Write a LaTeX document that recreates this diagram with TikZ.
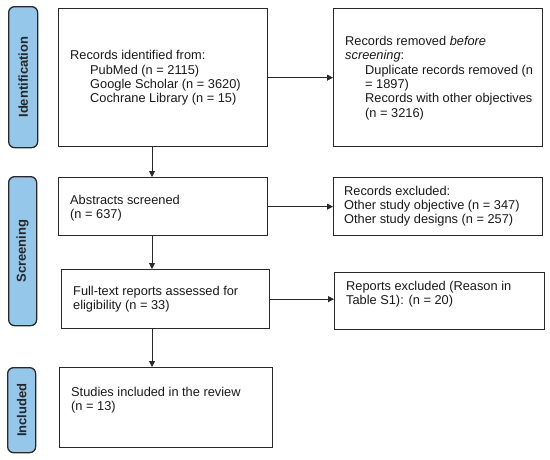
\documentclass[tikz,border=0pt]{standalone}
\usepackage{fontspec}
\setmainfont{Liberation Sans}
\usetikzlibrary{arrows.meta}
\definecolor{barfill}{RGB}{148,199,234}
\definecolor{lineclr}{RGB}{40,40,40}
\tikzset{
  box/.style={draw=lineclr, line width=1.3pt, fill=white, inner sep=0pt, anchor=north west},
  bar/.style={draw=lineclr, line width=1.3pt, fill=barfill, rounded corners=6pt, inner sep=0pt, anchor=north west},
  barlabel/.style={rotate=90, font=\fontsize{13}{15}\selectfont\bfseries, text=black!85},
  txt/.style={anchor=west, align=left, inner sep=0pt, font=\fontsize{12.8}{14.3}\selectfont, text=black!90},
  arr/.style={draw=lineclr, line width=0.8pt, -{Triangle[length=6pt,width=6pt]}}
}
\newcommand{\ind}{\hspace*{20pt}}
\begin{document}
\begin{tikzpicture}[x=1pt,y=-1pt]
\useasboundingbox (0,0) rectangle (550,459);
% side bars
\node[bar, minimum width=29pt, minimum height=141pt] (bId) at (8,6) {};
\node[bar, minimum width=28pt, minimum height=149pt] (bSc) at (8,176) {};
\node[bar, minimum width=28pt, minimum height=85pt] (bIn) at (7,367) {};
\node[barlabel] (lId) at (bId.center) {Identification};
\node[barlabel] (lSc) at (bSc.center) {Screening};
\node[barlabel] (lIn) at (bIn.center) {Included};
% boxes
\node[box, minimum width=209pt, minimum height=138pt] (id) at (58,8) {};
\node[box, minimum width=209pt, minimum height=138pt] (rem) at (333,8) {};
\node[box, minimum width=209pt, minimum height=58pt] (abs) at (58,177) {};
\node[box, minimum width=209pt, minimum height=58pt] (exc) at (333,177) {};
\node[box, minimum width=208pt, minimum height=59pt] (full) at (61,269) {};
\node[box, minimum width=210pt, minimum height=57pt] (rep) at (334,272) {};
\node[box, minimum width=213pt, minimum height=80pt] (inc) at (59,367) {};
% texts
\node[txt] (tid) at (70,78) {Records identified from:\\\ind PubMed (n = 2115)\\\ind Google Scholar (n = 3620)\\\ind Cochrane Library (n = 15)};
\node[txt] (trem) at (345,78) {Records removed \textit{before}\\\textit{screening}:\\\ind Duplicate records removed (n\\\ind = 1897)\\\ind Records with other objectives\\\ind (n = 3216)};
\node[txt] (tabs) at (70,208) {Abstracts screened\\(n = 637)};
\node[txt] (texc) at (344,206) {Records excluded:\\Other study objective (n = 347)\\Other study designs (n = 257)};
\node[txt] (tfull) at (73,299) {Full-text reports assessed for\\eligibility (n = 33)};
\node[txt] (trep) at (346,294) {Reports excluded (Reason in\\Table S1): (n = 20)};
\node[txt] (tinc) at (71,400) {Studies included in the review\\(n = 13)};
% arrows
\coordinate (ax) at (152,0);
\draw[arr] (ax |- id.south) -- (ax |- abs.north);
\draw[arr] (ax |- abs.south) -- (ax |- full.north);
\draw[arr] (ax |- full.south) -- (ax |- inc.north);
\draw[arr] (id.east) -- (rem.west);
\draw[arr] (abs.east) -- (exc.west);
\draw[arr] (full.east) -- (full.east -| rep.west);
\end{tikzpicture}
\end{document}
